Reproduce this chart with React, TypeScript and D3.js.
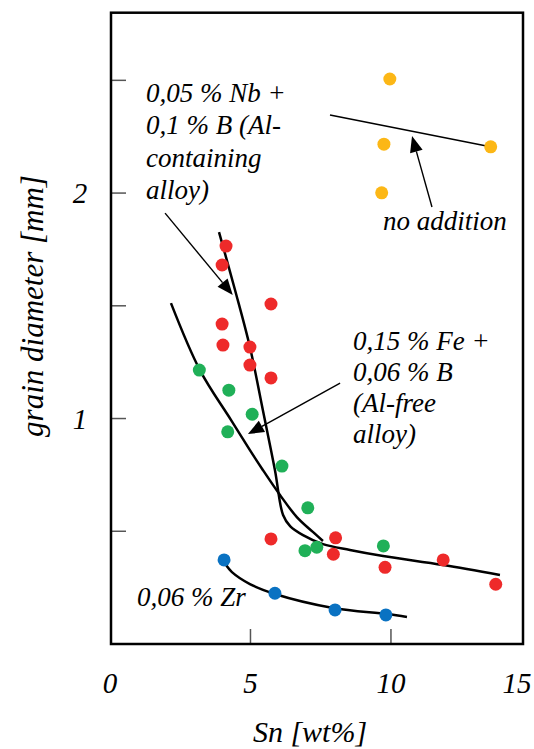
import React from "react";
import * as d3 from "d3";

type P = [number, number];

// Data (Sn wt%, grain diameter mm)
const noAddition: P[] = [[9.96, 2.506], [9.75, 2.217], [13.55, 2.205], [9.67, 2.001]];
const nbB: P[] = [
  [4.13, 1.765], [3.99, 1.681], [5.73, 1.508], [3.99, 1.419], [4.02, 1.326], [4.98, 1.317],
  [4.98, 1.237], [5.73, 1.18], [5.73, 0.466], [8.03, 0.471], [7.95, 0.398], [9.79, 0.34],
  [11.86, 0.373], [13.73, 0.265],
];
const feB: P[] = [
  [3.18, 1.215], [4.23, 1.126], [5.06, 1.019], [4.19, 0.941], [6.12, 0.789], [7.04, 0.604],
  [6.94, 0.414], [7.36, 0.429], [9.73, 0.435],
];
const zr: P[] = [[4.06, 0.373], [5.87, 0.225], [8.01, 0.151], [9.82, 0.129]];

// Trend curves
const noAdditionLine: P[] = [[7.83, 2.346], [13.45, 2.208]];
const nbCurve: P[] = [
  [3.88, 1.827], [4.45, 1.57], [4.98, 1.317], [5.44, 1.038], [5.87, 0.772], [6.16, 0.572],
  [6.41, 0.523], [6.87, 0.483], [7.58, 0.443], [8.54, 0.417], [9.72, 0.39], [11.85, 0.35], [13.88, 0.306],
];
const feCurve: P[] = [
  [2.17, 1.512], [3.2, 1.215], [4.31, 0.993], [4.98, 0.86], [5.44, 0.772], [6.05, 0.661],
  [6.65, 0.563], [7.22, 0.497], [7.58, 0.457],
];
const zrCurve: P[] = [
  [4.13, 0.35], [4.34, 0.319], [4.98, 0.266], [5.87, 0.222], [7.94, 0.16], [9.86, 0.133], [10.57, 0.12],
];

const xTicks = [0, 5, 10, 15];
const xInnerTicks = [5, 10];
const yTicks = [0.5, 1, 1.5, 2, 2.5];
const yLabels = [1, 2];

const nbLabel = ["0,05 % Nb +", "0,1 % B (Al-", "containing", "alloy)"];
const feLabel = ["0,15 % Fe +", "0,06 % B", "(Al-free", "alloy)"];

// annotation arrows [from, tip]
const arrows: [P, P][] = [
  [[11.46, 1.938], [10.75, 2.253]],
  [[1.96, 1.911], [4.37, 1.548]],
  [[8.19, 1.157], [4.91, 0.931]],
];

const W = 534;
const H = 749;
const left = 111, right = 523, top = 12.7, bottom = 644;

export default function App() {
  const x = d3.scaleLinear().domain([0, 14.7]).range([110, 523]);
  const y = d3.scaleLinear().domain([0, 2.8]).range([bottom, top]);
  const line = d3.line<P>().x((d) => x(d[0])).y((d) => y(d[1])).curve(d3.curveCatmullRom.alpha(0.5));
  const tStyle: React.CSSProperties = { fontFamily: "'Liberation Serif', serif", fontStyle: "italic" };

  const series: { data: P[]; color: string }[] = [
    { data: noAddition, color: "#fcb716" },
    { data: nbB, color: "#ee2a2a" },
    { data: feB, color: "#20b058" },
    { data: zr, color: "#0a72c2" },
  ];

  const arrowHead = (from: P, tip: P) => {
    const x1 = x(from[0]), y1 = y(from[1]), x2 = x(tip[0]), y2 = y(tip[1]);
    const a = Math.atan2(y2 - y1, x2 - x1);
    const L = 16, w = 6.5;
    const bx = x2 - L * Math.cos(a), by = y2 - L * Math.sin(a);
    const px = -Math.sin(a) * w, py = Math.cos(a) * w;
    return { line: [x1, y1, bx, by], pts: `${x2},${y2} ${bx + px},${by + py} ${bx - px},${by - py}` };
  };

  return (
    <svg width={W} height={H} style={{ display: "block", position: "absolute", left: 0, top: 0 }}>
      <rect width={W} height={H} fill="#fff" />
      {yTicks.map((t) => (
        <line key={"yt" + t} x1={left} x2={left + 15} y1={y(t)} y2={y(t)} stroke="#555" strokeWidth={1.5} />
      ))}
      {xInnerTicks.map((t) => (
        <line key={"xt" + t} x1={x(t)} x2={x(t)} y1={bottom} y2={bottom - 15} stroke="#555" strokeWidth={1.5} />
      ))}
      <rect x={left} y={top} width={right - left} height={bottom - top} fill="none" stroke="#000" strokeWidth={2.5} />
      {xTicks.map((t) => (
        <text key={"xl" + t} x={Math.min(x(t), 517)} y={693} textAnchor="middle" style={tStyle} fontSize={29}>
          {t}
        </text>
      ))}
      {yLabels.map((t) => (
        <text key={"yl" + t} x={80} y={y(t) + 10} textAnchor="middle" style={tStyle} fontSize={29}>
          {t}
        </text>
      ))}
      <text x={310} y={742} textAnchor="middle" style={tStyle} fontSize={30}>
        Sn [wt%]
      </text>
      <text transform="translate(43,306) rotate(-90)" textAnchor="middle" style={tStyle} fontSize={31}>
        grain diameter [mm]
      </text>
      {[noAdditionLine, nbCurve, feCurve, zrCurve].map((c, i) => (
        <path key={"c" + i} d={line(c) || ""} fill="none" stroke="#000" strokeWidth={i === 0 ? 1.5 : 2.5} />
      ))}
      {series.map((s, i) =>
        s.data.map((d, j) => <circle key={i + "-" + j} cx={x(d[0])} cy={y(d[1])} r={6.5} fill={s.color} />)
      )}
      {arrows.map(([f, t], i) => {
        const a = arrowHead(f, t);
        return (
          <g key={"a" + i}>
            <line x1={a.line[0]} y1={a.line[1]} x2={a.line[2]} y2={a.line[3]} stroke="#000" strokeWidth={1.4} />
            <polygon points={a.pts} fill="#000" />
          </g>
        );
      })}
      {nbLabel.map((s, i) => (
        <text key={"nb" + i} x={x(1.28)} y={y(2.404) + i * 32.5} style={tStyle} fontSize={27}>
          {s}
        </text>
      ))}
      {feLabel.map((s, i) => (
        <text key={"fe" + i} x={x(8.65)} y={y(1.304) + i * 31} style={tStyle} fontSize={27}>
          {s}
        </text>
      ))}
      <text x={x(9.72)} y={y(1.836)} style={tStyle} fontSize={27}>
        no addition
      </text>
      <text x={x(0.96)} y={y(0.169)} style={tStyle} fontSize={27}>
        0,06 % Zr
      </text>
    </svg>
  );
}
